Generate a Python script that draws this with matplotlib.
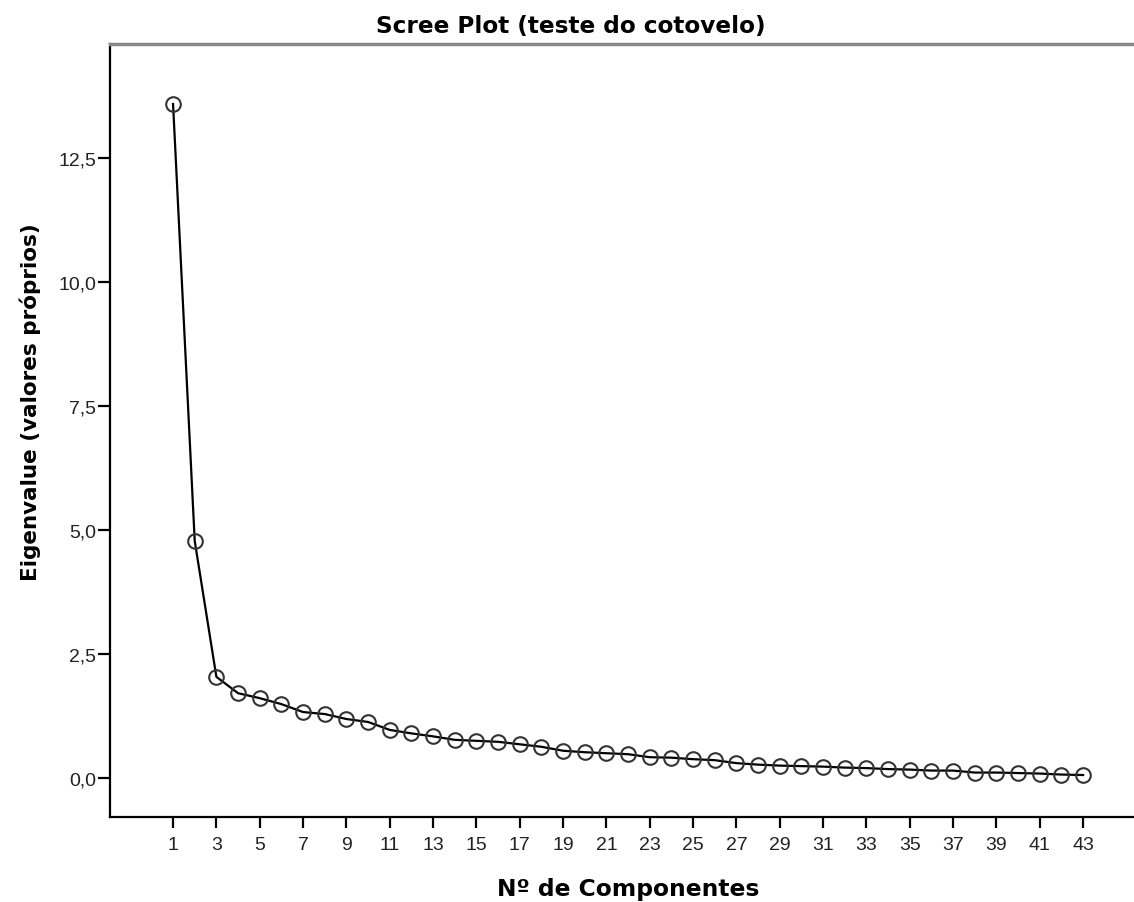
import matplotlib
matplotlib.use("Agg")
import matplotlib.pyplot as plt
from matplotlib.ticker import FuncFormatter

# eigenvalues (43 components)
components = list(range(1, 44))
eigenvalues = [13.59, 4.78, 2.04, 1.71, 1.61, 1.49, 1.33, 1.29, 1.19, 1.13,
               0.97, 0.90, 0.84, 0.77, 0.75, 0.73, 0.68, 0.63, 0.55, 0.52,
               0.50, 0.48, 0.42, 0.41, 0.38, 0.36, 0.30, 0.27, 0.25, 0.24,
               0.23, 0.21, 0.20, 0.18, 0.17, 0.15, 0.15, 0.11, 0.11, 0.10,
               0.09, 0.07, 0.06]
x_ticks = list(range(1, 44, 2))
y_ticks = [0.0, 2.5, 5.0, 7.5, 10.0, 12.5]

plt.rcParams["font.family"] = ["Liberation Sans", "DejaVu Sans"]
BOLD = ["DejaVu Sans"]

W, H = 1134, 903
fig = plt.figure(figsize=(W / 100, H / 100), dpi=100)
# axes box in pixels: left 110, top 45, bottom 818, runs to the right edge
ax = fig.add_axes([110 / W, 1 - 818 / H, 1 - 110 / W, (818 - 45) / H])

ax.plot(components, eigenvalues, color="black", linewidth=1.6,
        marker="o", markersize=10.5, markerfacecolor="none",
        markeredgecolor="#333333", markeredgewidth=1.5)

ax.set_xlim(-1.91, 45.35)
ax.set_ylim(-0.786, 14.8)
ax.set_xticks(x_ticks)
ax.set_yticks(y_ticks)
ax.yaxis.set_major_formatter(FuncFormatter(lambda v, p: f"{v:.1f}".replace(".", ",")))
ax.tick_params(direction="out", width=1.6, labelsize=14, colors="black",
               labelcolor="#222222")
ax.tick_params(axis="x", length=8, pad=6)
ax.tick_params(axis="y", length=8.5, pad=1.5)

for side in ["left", "bottom"]:
    ax.spines[side].set_color("black")
    ax.spines[side].set_linewidth(1.6)
ax.spines["top"].set_color("#888888")
ax.spines["top"].set_linewidth(2.5)
ax.spines["right"].set_visible(False)

ax.set_xlabel("Nº de Componentes", fontsize=16.8, fontweight="bold", family=BOLD)
ax.xaxis.set_label_coords((628 - 110) / 1024, (818 - 878) / 773)
ax.set_ylabel("Eigenvalue (valores próprios)", fontsize=15.5, fontweight="bold", family=BOLD)
# rotated label: this x is its right-hand side
ax.yaxis.set_label_coords((41 - 110) / 1024, (818 - 402) / 773)

fig.text(571 / W, 1 - 33 / H, "Scree Plot (teste do cotovelo)", fontsize=16.7,
         fontweight="bold", family=BOLD, ha="center", va="baseline")

fig.savefig("out.png", dpi=100)
